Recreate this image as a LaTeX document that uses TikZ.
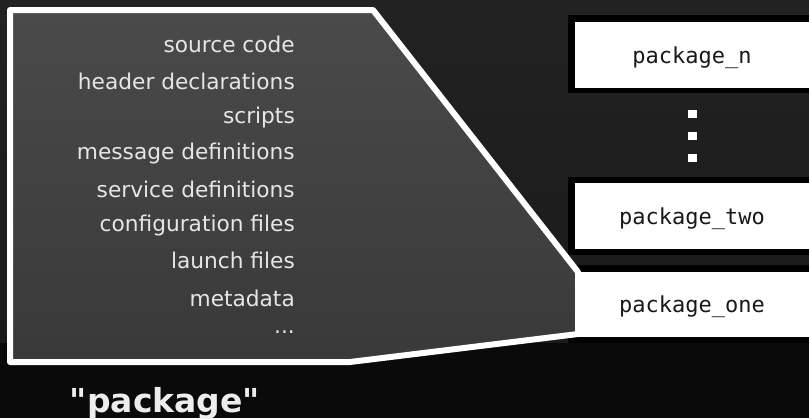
\documentclass[tikz,border=0pt]{standalone}
\usepackage{fontspec}
\setmainfont{DejaVu Sans}
\newfontfamily\boxfont{DejaVu Sans Mono}
\newfontfamily\capfont[Ligatures=TeXOff]{DejaVu Sans}
\definecolor{bgtop}{HTML}{222222}
\definecolor{bgmid}{HTML}{1A1A1A}
\definecolor{bgbot}{HTML}{0A0A0A}
\definecolor{paneltop}{HTML}{4A4A4A}
\definecolor{panelbot}{HTML}{393939}
\definecolor{itemtext}{HTML}{E6E6E6}
\tikzset{
  item/.style={anchor=base east, inner sep=0pt, text=itemtext, font=\fontsize{21.7}{24}\selectfont},
  pkgbox/.style={fill=white, inner sep=0pt, minimum width=234pt, text=black!90,
    text height=20pt, text depth=4pt, font=\boxfont\fontsize{22}{24}\selectfont},
  dotsq/.style={fill=white, inner sep=0pt, minimum width=9pt, minimum height=8pt},
  frame/.style={fill=black}
}
\begin{document}
\begin{tikzpicture}[x=1pt, y=-1pt]
  % backdrop: soft dark gradient with a darker band at the bottom
  \useasboundingbox (0,0) rectangle (809,418);
  \shade[top color=bgtop, bottom color=bgmid] (0,0) rectangle (809,343);
  \fill[bgbot] (0,343) rectangle (809,418);

  % black frames behind the package boxes
  \fill[frame] (568,15)  rectangle (809,93);
  \fill[frame] (568,177) rectangle (809,255);
  \fill[frame] (568,265) rectangle (809,343);

  % the zoomed-in package panel
  \path[draw=white, line width=6pt, line join=round, top color=paneltop, bottom color=panelbot]
    (10,10) -- (373,10) -- (578,272) -- (578,334) -- (350,362) -- (10,362) -- cycle;

  % package boxes
  \node[pkgbox, minimum height=66pt] (pn)   at (692,55)    {package\_n};
  \node[pkgbox, minimum height=66pt] (ptwo) at (692,216)   {package\_two};
  \node[pkgbox, minimum height=65pt] (pone) at (692,304.5) {package\_one};

  % vertical ellipsis between package_n and package_two
  \node[dotsq] (d1) at (692.5,114) {};
  \node[dotsq] (d2) at (692.5,136) {};
  \node[dotsq] (d3) at (692.5,157.5) {};

  % contents of a package
  \node[item] (i1) at (295,52)  {source code};
  \node[item] (i2) at (295,89)  {header declarations};
  \node[item] (i3) at (295,123) {scripts};
  \node[item] (i4) at (295,159) {message definitions};
  \node[item] (i5) at (295,197) {service definitions};
  \node[item] (i6) at (295,231) {configuration files};
  \node[item] (i7) at (295,268) {launch files};
  \node[item] (i8) at (295,306) {metadata};
  \node[item] (i9) at (295,333) {...};

  % caption
  \node[anchor=base, inner sep=0pt, text=white!93!black, font=\capfont\bfseries\fontsize{33}{36}\selectfont]
    (cap) at (165,412) {"package"};
\end{tikzpicture}
\end{document}
